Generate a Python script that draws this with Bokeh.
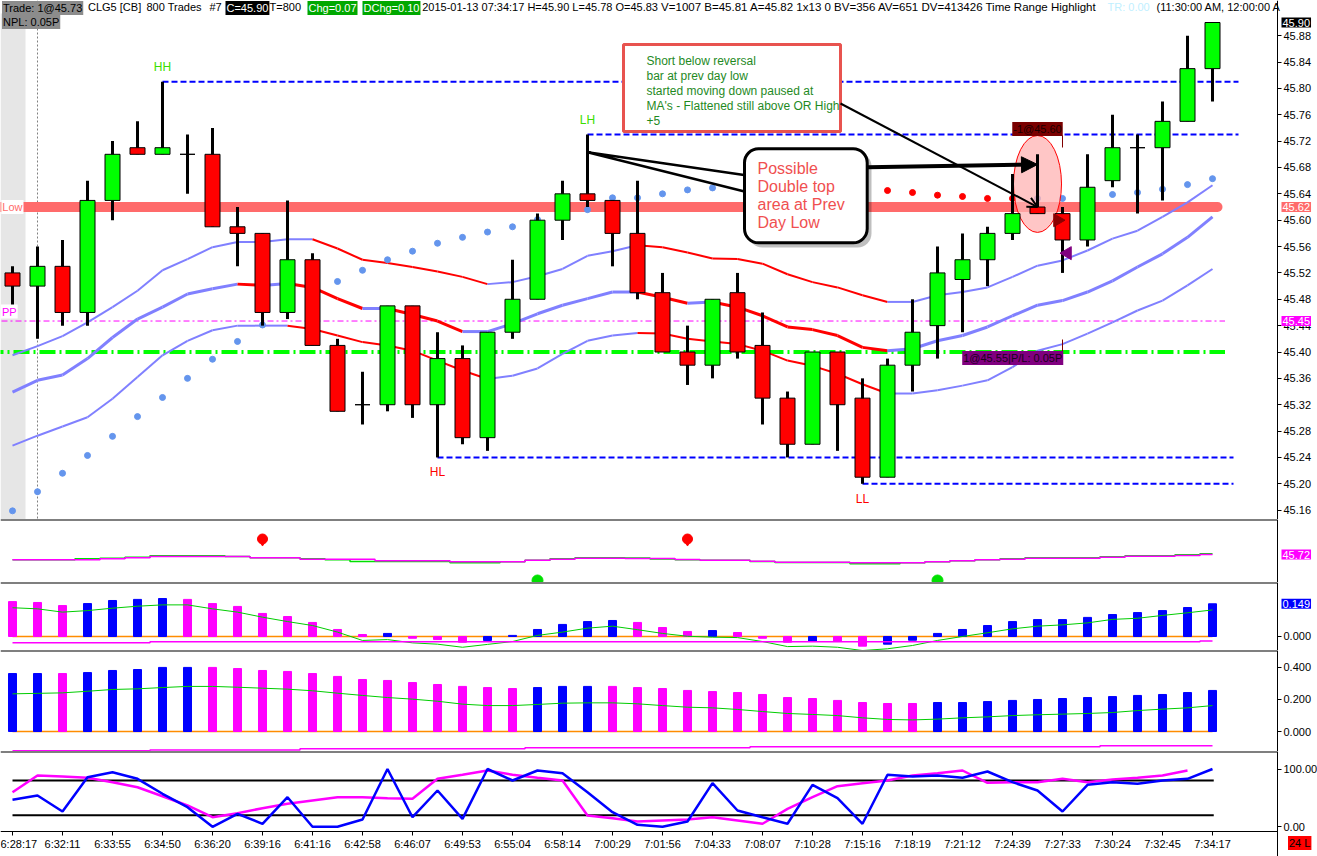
import math
from bokeh.plotting import figure
from bokeh.layouts import column
from bokeh.models import (Range1d, FixedTicker, PrintfTickFormatter, Label, Span,
                          BoxAnnotation, PolyAnnotation, Arrow, NormalHead, OpenHead)
from bokeh.embed import file_html
from bokeh.resources import INLINE
from bokeh.core.properties import value

NAN = float("nan")

# ---------------- data ----------------
time_labels = ["6:28:17", "6:32:11", "6:33:55", "6:34:50", "6:36:20", "6:39:16", "6:41:16",
               "6:42:58", "6:46:07", "6:49:53", "6:55:04", "6:58:14", "7:00:29", "7:01:56",
               "7:04:33", "7:08:07", "7:10:28", "7:15:16", "7:18:19", "7:21:12", "7:24:39",
               "7:27:33", "7:30:24", "7:32:45", "7:34:17"]

opens = [45.52, 45.50, 45.53, 45.46, 45.63, 45.71, 45.70, 45.70, 45.70, 45.59,
         45.58, 45.46, 45.54, 45.41, 45.32, 45.32, 45.47, 45.32, 45.39, 45.27,
         45.43, 45.48, 45.60, 45.64, 45.63, 45.58, 45.49, 45.40, 45.38, 45.49,
         45.41, 45.33, 45.26, 45.40, 45.33, 45.21, 45.38, 45.44, 45.51, 45.54,
         45.58, 45.62, 45.61, 45.57, 45.66, 45.71, 45.71, 45.75, 45.83]
highs = [45.53, 45.56, 45.57, 45.66, 45.72, 45.75, 45.81, 45.73, 45.74, 45.62,
         45.58, 45.63, 45.55, 45.42, 45.37, 45.47, 45.47, 45.43, 45.41, 45.43,
         45.54, 45.61, 45.66, 45.73, 45.63, 45.66, 45.52, 45.44, 45.48, 45.52,
         45.46, 45.34, 45.40, 45.40, 45.36, 45.39, 45.48, 45.56, 45.58, 45.59,
         45.67, 45.70, 45.62, 45.70, 45.76, 45.73, 45.78, 45.88, 45.90]
lows = [45.47, 45.42, 45.44, 45.44, 45.60, 45.70, 45.70, 45.64, 45.59, 45.53,
        45.44, 45.45, 45.41, 45.31, 45.29, 45.31, 45.30, 45.24, 45.26, 45.25,
        45.42, 45.48, 45.57, 45.62, 45.53, 45.48, 45.40, 45.35, 45.36, 45.39,
        45.29, 45.24, 45.26, 45.25, 45.20, 45.21, 45.34, 45.39, 45.43, 45.50,
        45.57, 45.61, 45.52, 45.56, 45.65, 45.61, 45.63, 45.75, 45.78]
closes = [45.50, 45.53, 45.46, 45.63, 45.70, 45.70, 45.71, 45.70, 45.59, 45.58,
          45.46, 45.54, 45.41, 45.31, 45.32, 45.47, 45.32, 45.39, 45.27, 45.43,
          45.48, 45.60, 45.64, 45.63, 45.58, 45.49, 45.40, 45.38, 45.48, 45.40,
          45.33, 45.26, 45.40, 45.32, 45.21, 45.38, 45.43, 45.52, 45.54, 45.58,
          45.61, 45.61, 45.57, 45.65, 45.71, 45.71, 45.75, 45.83, 45.90]

ma_upper = [45.395, 45.409, 45.424, 45.445, 45.468, 45.493, 45.524, 45.541, 45.559, 45.567,
            45.567, 45.571, 45.571, 45.557, 45.540, 45.535, 45.529, 45.522, 45.514, 45.503,
            45.506, 45.515, 45.526, 45.546, 45.553, 45.562, 45.559, 45.551, 45.542, 45.541,
            45.534, 45.518, 45.506, 45.498, 45.486, 45.476, 45.476, 45.486, 45.491, 45.498,
            45.514, 45.531, 45.539, 45.554, 45.572, 45.584, 45.605, 45.627, 45.653]
ma_mid = [45.339, 45.357, 45.365, 45.390, 45.422, 45.450, 45.468, 45.488, 45.496, 45.503,
          45.501, 45.504, 45.498, 45.481, 45.466, 45.466, 45.457, 45.447, 45.431, 45.431,
          45.443, 45.458, 45.471, 45.481, 45.491, 45.491, 45.483, 45.474, 45.476, 45.468,
          45.455, 45.438, 45.434, 45.425, 45.407, 45.402, 45.405, 45.417, 45.425, 45.438,
          45.455, 45.471, 45.478, 45.491, 45.508, 45.529, 45.549, 45.574, 45.605]
ma_lower = [45.258, 45.273, 45.287, 45.301, 45.329, 45.362, 45.395, 45.417, 45.433, 45.440,
            45.440, 45.440, 45.435, 45.425, 45.415, 45.410, 45.402, 45.387, 45.372, 45.359,
            45.364, 45.375, 45.397, 45.417, 45.425, 45.429, 45.428, 45.420, 45.416, 45.412,
            45.402, 45.387, 45.379, 45.367, 45.351, 45.337, 45.337, 45.342, 45.349, 45.357,
            45.377, 45.402, 45.412, 45.428, 45.445, 45.463, 45.478, 45.501, 45.526]

psar = [45.159, 45.188, 45.216, 45.243, 45.272, 45.302, 45.331, 45.360, 45.389, 45.416,
        45.441, NAN, NAN, 45.507, 45.524, 45.540, 45.553, 45.565, 45.574, 45.582,
        45.590, 45.601, 45.609, 45.616, 45.634, 45.634, 45.640, 45.646, 45.649, 45.652,
        45.655, 45.657, 45.659, 45.660, 45.648, 45.645, 45.642, 45.638, 45.636, 45.633,
        45.633, 45.633, 45.633, 45.636, 45.639, 45.642, 45.647, 45.654, 45.663]
psar_long = [1] * 34 + [0] * 7 + [1] * 8

prev_day_low = 45.62
pivot_pp = 45.447
or_high = 45.40
pivot_idx = [6, 17, 23, 34]
pivot_kind = ["HH", "HL", "LH", "LL"]

trade_entry = (42, 45.60)
trade_exit = (42, 45.55)

# panel 2 (trend lines)
p2_green = [45.667, 45.667, 45.667, 45.677, 45.683, 45.693, 45.707, 45.707, 45.707, 45.700,
            45.687, 45.687, 45.677, 45.667, 45.650, 45.650, 45.650, 45.650, 45.637, 45.637,
            45.647, 45.663, 45.677, 45.687, 45.687, 45.685, 45.675, 45.667, 45.663, 45.663,
            45.650, 45.640, 45.640, 45.640, 45.627, 45.627, 45.637, 45.647, 45.657, 45.667,
            45.677, 45.687, 45.687, 45.687, 45.697, 45.707, 45.707, 45.717, 45.727]
p2_magenta = [45.667, 45.667, 45.667, 45.667, 45.677, 45.687, 45.700, 45.700, 45.700, 45.700,
              45.687, 45.687, 45.673, 45.673, 45.673, 45.657, 45.657, 45.657, 45.647, 45.647,
              45.647, 45.663, 45.673, 45.683, 45.683, 45.680, 45.680, 45.670, 45.663, 45.663,
              45.653, 45.643, 45.643, 45.643, 45.637, 45.637, 45.637, 45.647, 45.657, 45.667,
              45.673, 45.683, 45.683, 45.683, 45.693, 45.703, 45.703, 45.710, 45.720]
sig_dn_idx = [10, 27]
sig_up_idx = [21, 37]

# panel 3 (oscillator histogram)
osc = [0.159, 0.155, 0.141, 0.150, 0.164, 0.169, 0.173, 0.169, 0.150, 0.137,
       0.105, 0.091, 0.064, 0.032, 0.009, 0.014, -0.008, -0.014, -0.026, -0.018,
       0.005, 0.032, 0.055, 0.068, 0.073, 0.064, 0.041, 0.023, 0.027, 0.018,
       -0.008, -0.026, -0.021, -0.022, -0.044, -0.035, -0.017, 0.014, 0.032, 0.050,
       0.068, 0.077, 0.077, 0.087, 0.100, 0.109, 0.118, 0.132, 0.149]
osc_up = [0, 0, 0, 1, 1, 1, 1, 0, 0, 0,
          0, 0, 0, 0, 0, 1, 0, 0, 0, 1,
          1, 1, 1, 1, 1, 0, 0, 0, 1, 0,
          0, 0, 1, 0, 0, 1, 1, 1, 1, 1,
          1, 1, 1, 1, 1, 1, 1, 1, 1]
osc_signal = [0.131, 0.126, 0.111, 0.118, 0.129, 0.138, 0.144, 0.144, 0.126, 0.111,
              0.088, 0.068, 0.050, 0.020, -0.018, -0.014, -0.029, -0.035, -0.049, -0.036,
              -0.023, 0.005, 0.020, 0.038, 0.047, 0.031, 0.014, 0.001, -0.003, -0.005,
              -0.023, -0.046, -0.044, -0.049, -0.064, -0.056, -0.041, -0.018, 0.000, 0.017,
              0.035, 0.047, 0.053, 0.062, 0.078, 0.083, 0.096, 0.108, 0.121]
osc_floor = [-0.029] * 6 + [-0.024] * 42 + [-0.020]

# panel 4 (volume-type histogram)
vol = [0.360, 0.360, 0.360, 0.366, 0.379, 0.385, 0.398, 0.398, 0.398, 0.391,
       0.379, 0.373, 0.360, 0.342, 0.323, 0.317, 0.304, 0.292, 0.280, 0.273,
       0.267, 0.273, 0.280, 0.280, 0.280, 0.273, 0.267, 0.255, 0.248, 0.242,
       0.230, 0.211, 0.205, 0.193, 0.180, 0.174, 0.174, 0.180, 0.180, 0.186,
       0.193, 0.199, 0.205, 0.211, 0.217, 0.224, 0.230, 0.242, 0.255]
vol_up = [1, 1, 0, 1, 1, 1, 1, 1, 0, 0,
          0, 0, 0, 0, 0, 0, 0, 0, 0, 0,
          0, 1, 1, 1, 0, 0, 0, 0, 0, 0,
          0, 0, 0, 0, 0, 0, 0, 1, 1, 1,
          1, 1, 1, 1, 1, 1, 1, 1, 1]
vol_avg = [0.234, 0.237, 0.240, 0.250, 0.261, 0.265, 0.273, 0.280, 0.280, 0.275,
           0.269, 0.263, 0.253, 0.238, 0.224, 0.211, 0.201, 0.188, 0.170, 0.161,
           0.161, 0.168, 0.176, 0.178, 0.178, 0.172, 0.161, 0.151, 0.147, 0.137,
           0.124, 0.112, 0.106, 0.099, 0.085, 0.075, 0.072, 0.077, 0.085, 0.091,
           0.099, 0.104, 0.108, 0.112, 0.118, 0.130, 0.139, 0.147, 0.161]
vol_floor = [-0.120] * 6 + [-0.114] * 6 + [-0.107] * 9 + [-0.101] * 9 + [-0.095] * 14 + [-0.089] * 5

# panel 5 (stochastic)
stoch_k = [46.7, 54.2, 26.5, 85.8, 94.5, 83.0, 57.1, 33.9, 0.0, 22.5,
           5.2, 51.2, 0.0, 0.0, 12.6, 100.0, 16.6, 62.8, 13.8, 100.0,
           80.1, 97.4, 92.7, 59.9, 25.3, 3.5, 0.0, 9.2, 75.5, 28.2,
           16.6, 5.2, 72.6, 49.5, 5.2, 90.0, 87.0, 88.8, 84.8, 95.7,
           77.2, 62.8, 26.5, 72.6, 77.2, 74.4, 80.1, 83.0, 100.0]
stoch_d = [59.9, 88.8, 87.0, 84.8, 77.2, 68.5, 52.9, 36.9, 16.6, 23.5,
           32.2, 39.8, 45.5, 51.2, 51.2, 49.5, 48.4, 83.0, 90.0, 97.4,
           90.0, 84.8, 80.1, 19.6, 14.9, 9.2, 10.9, 12.6, 16.6, 10.9,
           5.2, 31.1, 51.2, 70.2, 75.5, 80.1, 88.8, 92.7, 97.4, 76.1,
           77.2, 77.2, 83.0, 77.2, 81.8, 84.8, 88.8, 97.4, NAN]
stoch_levels = [80, 20]

price_ticks = [45.16, 45.20, 45.24, 45.28, 45.32, 45.36, 45.40, 45.44, 45.48, 45.52,
               45.56, 45.60, 45.64, 45.68, 45.72, 45.76, 45.80, 45.84, 45.88]

# ---------------- styling ----------------
FONT = "Liberation Sans"
RED, LIME, BLUE, MAG, LAV = "#ff0000", "#00ff00", "#0000ff", "#ff00ff", "#8080ff"
SALMON = "#ff6b6b"
W, H = 1317, 856

n = len(closes)
idx = list(range(n))


def ax_x(px):   # horizontal placement (window pixel -> bar units)
    return (px - 12.0) / 25.0


def ax_y(py):   # vertical placement in the price panel (window pixel -> price)
    return 45.40 + (351.5 - py) / 659.0


xr = Range1d(ax_x(0), ax_x(W))
X_AXIS = ax_x(1277)          # where the price scale sits
XL = ax_x(1281)              # value boxes over the scale


def panel(h, y0, y1):
    p = figure(width=W, height=h, x_range=xr, y_range=Range1d(y0, y1),
               output_backend="svg", toolbar_location=None,
               x_axis_location=None, y_axis_location="right",
               min_border_left=0, min_border_right=0, min_border_top=0,
               min_border_bottom=0, outline_line_color=None,
               background_fill_color="white", border_fill_color="white")
    p.xgrid.visible = False
    p.ygrid.visible = False
    a = p.yaxis[0]
    a.fixed_location = X_AXIS
    a.axis_line_color = "black"
    a.major_tick_out = 4
    a.major_tick_in = 0
    a.minor_tick_line_color = None
    a.major_label_standoff = 2
    a.major_label_text_font = FONT
    a.major_label_text_font_size = "11px"
    a.major_label_text_color = "black"
    return p


def vlabel(p, y, text, bg, color="white"):
    p.add_layout(Label(x=XL, y=y, text=text, text_font=FONT, text_font_size="11px",
                       text_color=color, text_baseline="middle", text_align="left",
                       background_fill_color=bg, padding=1))


def tlabel(p, x, y, text, color="black", size="11px", bg=None, align="left",
           baseline="top"):
    kw = dict(background_fill_color=bg, padding=1) if bg else {}
    p.add_layout(Label(x=x, y=y, text=text, text_font=FONT, text_font_size=size,
                       text_color=color, text_align=align, text_baseline=baseline, **kw))


def top_rule(p):
    p.segment(x0=[xr.start], y0=[p.y_range.end], x1=[X_AXIS], y1=[p.y_range.end],
              line_color="black", line_width=2)


# ================= main price panel =================
p1 = panel(519, ax_y(519), ax_y(0))
p1.yaxis[0].ticker = FixedTicker(ticks=price_ticks)
p1.yaxis[0].formatter = PrintfTickFormatter(format="%.2f")

p1.add_layout(BoxAnnotation(right=ax_x(25), top=ax_y(13), fill_color="#e6e6e6",
                            fill_alpha=1, line_color=None, level="underlay"))
p1.add_layout(Span(location=1, dimension="height", line_color="#808080",
                   line_dash="2 2", line_width=1, level="underlay"))

# reference levels
p1.segment(x0=[-1], y0=[prev_day_low], x1=[48.2], y1=[prev_day_low],
           line_width=10, line_color=SALMON, line_cap="round")
p1.segment(x0=[-1], y0=[pivot_pp], x1=[48.5], y1=[pivot_pp],
           line_width=1, line_color=MAG, line_dash="6 3 2 3")
p1.segment(x0=[-1], y0=[or_high], x1=[48.5], y1=[or_high],
           line_width=4, line_color=LIME, line_dash="16 4 2 4")

# swing pivots
for i, kind in zip(pivot_idx, pivot_kind):
    is_top = kind in ("HH", "LH")
    lvl = highs[i] if is_top else lows[i]
    end = 49.04 if is_top else 48.84
    p1.segment(x0=[i], y0=[lvl], x1=[end], y1=[lvl], line_width=2,
               line_color=BLUE, line_dash="6 3")
    p1.text(x=[i], y=[lvl], text=[kind], text_font=value(FONT), text_font_size="12px",
            text_color=("#3ade00" if is_top else RED), text_align="center",
            text_baseline="middle", y_offset=(-15 if is_top else 15))

# moving-average envelope (red while falling)
for arr, w in ((ma_upper, 2), (ma_mid, 3), (ma_lower, 2)):
    cols = [RED if arr[k + 1] < arr[k] else LAV for k in range(n - 1)]
    p1.segment(x0=idx[:-1], y0=arr[:-1], x1=idx[1:], y1=arr[1:],
               line_color=cols, line_width=w)

# parabolic SAR dots
p1.scatter(idx, psar, size=6, marker="circle",
           color=["#6495ed" if f else RED for f in psar_long])

# highlight ellipse around the reversal bar
hb = 41
p1.ellipse(x=[hb], y=[(highs[hb] + lows[hb]) / 2], width=1.92,
           height=(highs[hb] - lows[hb]) + 0.057, fill_color="#ffb3b3",
           fill_alpha=0.75, line_color=RED, line_width=1)

# candles
body_col = [LIME if c > o else (RED if c < o else "black") for o, c in zip(opens, closes)]
p1.segment(x0=idx, y0=highs, x1=idx, y1=lows, line_color="black", line_width=3)
p1.vbar(x=idx, width=0.6, top=[max(o, c) for o, c in zip(opens, closes)],
        bottom=[min(o, c) for o, c in zip(opens, closes)],
        fill_color=body_col, line_color="black", line_width=1)

# trade marks
p1.segment(x0=[trade_entry[0], trade_entry[0]], y0=[ax_y(135), ax_y(339)],
           x1=[trade_entry[0], trade_entry[0]], y1=[ax_y(147), ax_y(353)],
           line_color="#800000", line_width=1)
p1.scatter([trade_entry[0] - 0.2], [trade_entry[1]], marker="triangle",
           angle=-math.pi / 2, size=13, color="#8b0000")
p1.scatter([trade_exit[0] + 0.2], [trade_exit[1]], marker="triangle",
           angle=math.pi / 2, size=13, color="#800080")

# comment box
p1.add_layout(BoxAnnotation(left=ax_x(623), right=ax_x(840), top=ax_y(44), bottom=ax_y(131),
                            fill_color="white", fill_alpha=1, line_color="#e8534f",
                            line_alpha=1, line_width=3))
note_lines = ["Short below reversal", "bar at prev day low", "started moving down paused at",
              "MA's - Flattened still above OR High", "+5"]
for k, t in enumerate(note_lines):
    tlabel(p1, ax_x(646), ax_y(60.7 + 14.8 * k), t, color="#1f8a1f", size="12px",
           baseline="middle")

# callout
p1.add_layout(BoxAnnotation(left=ax_x(748), right=ax_x(871), top=ax_y(152), bottom=ax_y(247),
                            fill_color="black", fill_alpha=0.25, line_color=None,
                            border_radius=14))
p1.add_layout(PolyAnnotation(xs=[23.0, ax_x(747), ax_x(747)],
                             ys=[ax_y(151.7), ax_y(175), ax_y(191.7)],
                             fill_color="white", fill_alpha=1, line_color="black",
                             line_alpha=1, line_width=2.5))
p1.add_layout(BoxAnnotation(left=ax_x(744), right=ax_x(866.7), top=ax_y(148.3),
                            bottom=ax_y(242.3), fill_color="white", fill_alpha=1,
                            line_color="black", line_alpha=1, line_width=3,
                            border_radius=14))
for k, t in enumerate(["Possible", "Double top", "area at Prev", "Day Low"]):
    tlabel(p1, ax_x(757), ax_y(168.3 + 18 * k), t, color="#f05050", size="16px",
           baseline="middle")

p1.add_layout(Arrow(end=OpenHead(size=10, line_width=2, line_color="black"),
                    x_start=ax_x(840), y_start=ax_y(103), x_end=hb, y_end=opens[hb],
                    line_color="black", line_width=2))
p1.add_layout(Arrow(end=NormalHead(size=16, fill_color="black", line_color="black"),
                    x_start=ax_x(867), y_start=ax_y(166.7), x_end=hb, y_end=ax_y(164),
                    line_color="black", line_width=4))

# trade labels
tlabel(p1, hb, ax_y(128.5), "-1@45.60", color="#1a0000", bg="#7a0000", align="center",
       baseline="middle")
tlabel(p1, trade_exit[0] + 0.03, ax_y(357.5), "1@45.55|P/L: 0.05P", color="#1a001a",
       bg="#800080", align="right", baseline="middle")

# left labels
tlabel(p1, ax_x(23), prev_day_low, "Low", color=SALMON, bg="white", align="right",
       baseline="middle")
tlabel(p1, ax_x(0.5), ax_y(311), "PP", color=MAG, bg="white", baseline="middle")

# right value boxes
vlabel(p1, closes[-1], f"{closes[-1]:.2f}", "black")
vlabel(p1, prev_day_low, f"{prev_day_low:.2f}", SALMON)
vlabel(p1, pivot_pp, f"{pivot_pp:.2f}", MAG)

# header
hy = ax_y(0.5)
header = [
    (1.5, "Trade: 1@45.73", "black", "#8c8c8c", "11px"),
    (87.5, "CLG5 [CB]", "black", None, "11px"),
    (146, "800 Trades", "black", None, "11px"),
    (209, "#7", "black", None, "11px"),
    (225, "C=45.90", "white", "black", "11px"),
    (269, "T=800", "black", None, "11px"),
    (307, "Chg=0.07", "white", "#00a800", "11px"),
    (362, "DChg=0.10", "white", "#00a800", "11px"),
    (421.7, "2015-01-13 07:34:17 H=45.90 L=45.78 O=45.83", "black", None, "11px"),
    (660.6, "V=1007 B=45.81 A=45.82 1x13 0 BV=356 AV=651 DV=413426 Time Range Highlight",
     "black", None, "11.5px"),
    (1107, "TR: 0.00", "#bfefff", None, "11px"),
    (1156, "(11:30:00 AM, 12:00:00 A", "black", None, "11px"),
]
for px, t, c, bg, fs in header:
    tlabel(p1, ax_x(px), hy, t, color=c, bg=bg, size=fs)
tlabel(p1, ax_x(1.5), ax_y(14.5), "NPL: 0.05P", color="black", bg="#8c8c8c")

# ================= panel 2 =================
p2 = panel(63, 45.44, 46.07)
p2.yaxis[0].ticker = FixedTicker(ticks=[])
p2.step(idx, p2_green, mode="center", line_color="#00e000", line_width=1.5)
p2.step(idx, p2_magenta, mode="center", line_color=MAG, line_width=1.5)
p2.scatter(sig_dn_idx, [45.875] * len(sig_dn_idx), marker="circle", size=10, color=RED)
p2.scatter(sig_dn_idx, [45.845] * len(sig_dn_idx), marker="inverted_triangle", size=7,
           color=RED)
p2.scatter(sig_up_idx, [45.46] * len(sig_up_idx), marker="circle", size=11, color="#00e000")
vlabel(p2, p2_magenta[-1], f"{p2_magenta[-1]:.2f}", MAG)
top_rule(p2)

# ================= panel 3 =================
p3 = panel(68, -0.0638, 0.246)
p3.yaxis[0].ticker = FixedTicker(ticks=[0])
p3.yaxis[0].formatter = PrintfTickFormatter(format="%.3f")
p3.segment(x0=[0], y0=[0], x1=[n - 1], y1=[0], line_color="#ff8c00", line_width=1.5)
p3.vbar(x=idx, width=0.32, top=osc, bottom=0,
        color=[BLUE if u else MAG for u in osc_up])
p3.line(idx, osc_signal, line_color="#00cc00", line_width=1)
p3.step(idx, osc_floor, mode="center", line_color=MAG, line_width=1.5)
vlabel(p3, osc[-1], f"{osc[-1]:.3f}", BLUE)
top_rule(p3)

# ================= panel 4 =================
p4 = panel(101, -0.124, 0.503)
p4.yaxis[0].ticker = FixedTicker(ticks=[0, 0.2, 0.4])
p4.yaxis[0].formatter = PrintfTickFormatter(format="%.3f")
p4.segment(x0=[0], y0=[0], x1=[n - 1], y1=[0], line_color="#ff8c00", line_width=1.5)
p4.vbar(x=idx, width=0.32, top=vol, bottom=0,
        color=[BLUE if u else MAG for u in vol_up])
p4.line(idx, vol_avg, line_color="#00cc00", line_width=1)
p4.step(idx, vol_floor, mode="center", line_color=MAG, line_width=1.5)
top_rule(p4)

# ================= panel 5 =================
S_PX = 0.578                      # stochastic: pixels per unit
S0 = 826.3                        # window row of 0
p5 = figure(width=W, height=105, x_range=xr,
            y_range=Range1d((S0 - 856) / S_PX, (S0 - 751) / S_PX),
            output_backend="svg", toolbar_location=None,
            x_axis_location="below", y_axis_location="right",
            min_border_left=0, min_border_right=0, min_border_top=0, min_border_bottom=0,
            outline_line_color=None, background_fill_color="white",
            border_fill_color="white")
p5.xgrid.visible = False
p5.ygrid.visible = False
ya = p5.yaxis[0]
ya.fixed_location = X_AXIS
ya.ticker = FixedTicker(ticks=[0, 100])
ya.formatter = PrintfTickFormatter(format="%.2f")
ya.axis_line_color = "black"
ya.major_tick_out = 4
ya.major_tick_in = 0
ya.minor_tick_line_color = None
ya.major_label_standoff = 2
ya.major_label_text_font = FONT
ya.major_label_text_font_size = "11px"
ya.major_label_text_color = "black"
y_floor = (S0 - 831) / S_PX
for lv in stoch_levels:
    p5.segment(x0=[0], y0=[lv], x1=[n - 1 + 0.05], y1=[lv], line_color="black", line_width=2)
p5.line(idx, stoch_d, line_color=MAG, line_width=2.5)
p5.line(idx, stoch_k, line_color=BLUE, line_width=2.5)
p5.segment(x0=[xr.start], y0=[y_floor], x1=[X_AXIS], y1=[y_floor], line_color="black",
           line_width=1)
xa = p5.xaxis[0]
xa.fixed_location = y_floor
tick_pos = list(range(0, n, 2))
xa.ticker = FixedTicker(ticks=tick_pos)
xa.major_label_overrides = {i: t for i, t in zip(tick_pos, time_labels)}
xa.major_tick_in = 0
xa.major_tick_out = 4
xa.minor_tick_line_color = None
xa.axis_line_color = None
xa.major_label_standoff = 2
xa.major_label_text_font = FONT
xa.major_label_text_font_size = "11px"
xa.major_label_text_color = "black"
tlabel(p5, ax_x(1287.5), (S0 - 842.5) / S_PX, "24 L", color="black", bg=RED,
       baseline="middle")
top_rule(p5)

layout = column(p1, p2, p3, p4, p5)
open("out.html", "w").write(file_html(layout, INLINE))
